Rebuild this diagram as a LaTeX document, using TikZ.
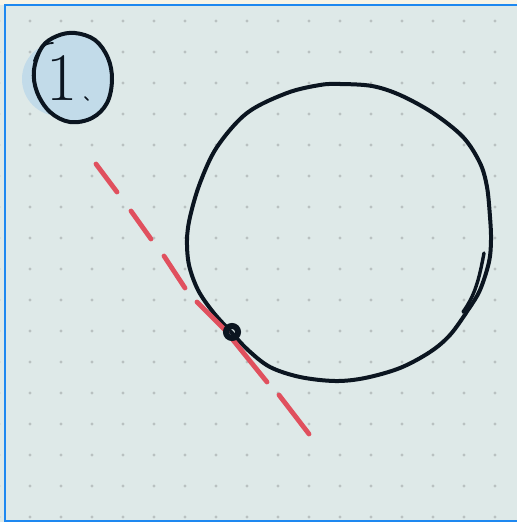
\documentclass[tikz,border=0pt]{standalone}
\definecolor{cream}{HTML}{F8F4E6}
\definecolor{paper}{HTML}{DEE9E8}
\definecolor{gdot}{HTML}{B9C1C1}
\definecolor{frameblue}{HTML}{1E88F0}
\definecolor{ink}{HTML}{0B1520}
\definecolor{redink}{HTML}{E0505E}
\definecolor{badge}{HTML}{C2DBE9}
\tikzset{
  inkline/.style={draw=ink, line width=4pt, line cap=round, line join=round},
  redstroke/.style={draw=redink, line width=4.8pt, line cap=round},
  griddot/.style={fill=gdot},
}
\begin{document}
\begin{tikzpicture}[x=1pt,y=-1pt]
\useasboundingbox (0,0) rectangle (517,522);
% background and frame
\fill[cream] (0,0) rectangle (517,522);
\fill[paper] (0,5) rectangle (517,522);
\foreach \i in {0,...,16} {
  \foreach \j in {0,...,16} {
    \fill[griddot] ({-1+31*\i},{21+31*\j}) circle (1.6pt);
  }
}
\draw[frameblue, line width=2pt] (517,5) -- (4.5,5) -- (4.5,520.5) -- (517,520.5);
% badge
\fill[badge] (59,79) circle (37pt);
\draw[inkline, fill=badge] plot[smooth cycle, tension=0.6] coordinates {
  (75,33) (95,40) (108,58) (112,80) (107,103) (92,118) (70,122) (50,112) (37,92) (34,70) (42,47) (57,36)};
\draw[draw=ink, line width=1.8pt, line cap=round] (34,61) .. controls (38,48) and (45,43) .. (53,43);
\draw[draw=ink, line width=1.5pt, line cap=round] (85,97) -- (88,100);
\node[text=ink, inner sep=0pt] (one) at (62,78) {\fontsize{68}{68}\selectfont 1};
% big circle
\draw[inkline] plot[smooth cycle, tension=0.55] coordinates {
  (340,84) (372,86) (400,95) (433,113) (463,137) (480,163) (487,187) (490,217)
  (491,240) (489,262) (480,290) (468,310) (450,335) (430,352) (400,368) (365,378)
  (335,381) (300,377) (270,367) (248,350) (232,333) (213,312) (198,290) (189,265)
  (187,240) (190,217) (200,183) (217,147) (247,113) (287,93) (320,85)};
\draw[inkline, line width=3.4pt] (484,253) .. controls (479,280) and (475,295) .. (463,312);
% red dashed tangent
\draw[redstroke] (96,164) -- (117,192);
\draw[redstroke] (131,211) -- (151,239);
\draw[redstroke] (164,256) -- (185,288);
\draw[redstroke] (197,302) -- (227,332);
\draw[redstroke] (233,340) -- (267,382);
\draw[redstroke] (279,395) -- (309,434);
% tangent point
\node[circle, draw=ink, line width=6pt, minimum size=12pt, inner sep=0pt] (tp) at (232,332) {};
\end{tikzpicture}
\end{document}
